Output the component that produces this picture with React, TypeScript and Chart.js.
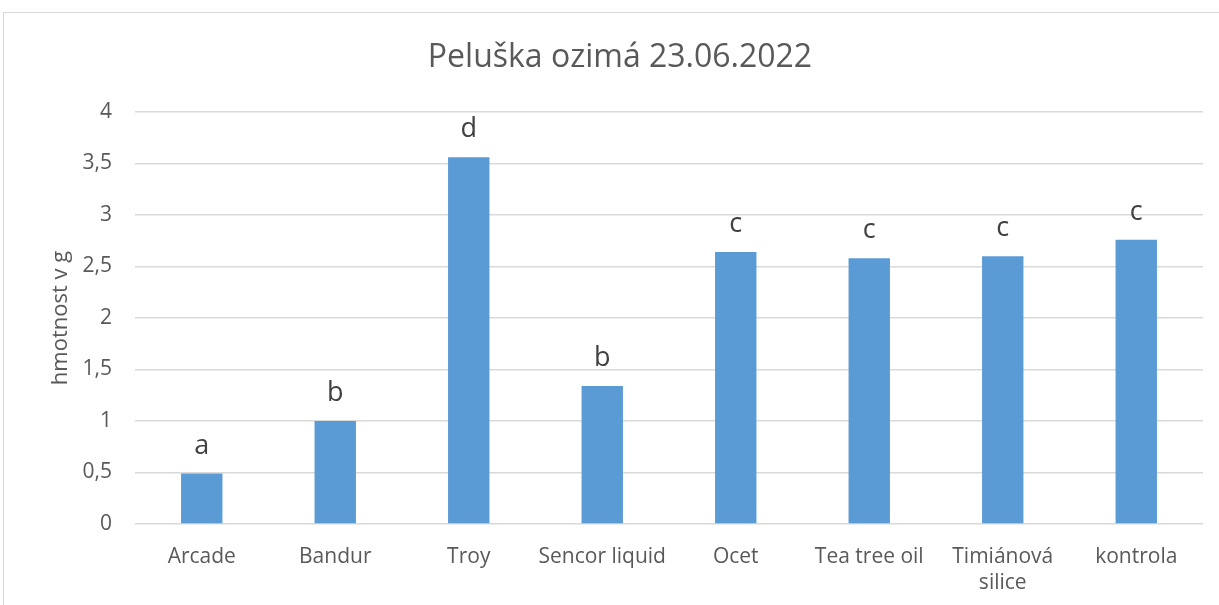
import React, { useEffect, useRef } from "react";
import { Chart, registerables } from "chart.js";

Chart.register(...registerables);

const categories: (string | string[])[] = [
  "Arcade",
  "Bandur",
  "Troy",
  "Sencor liquid",
  "Ocet",
  "Tea tree oil",
  ["Timiánová", "silice"],
  "kontrola",
];
const values: number[] = [0.49, 1.0, 3.56, 1.34, 2.64, 2.58, 2.6, 2.76];
const letters: string[] = ["a", "b", "d", "b", "c", "c", "c", "c"];
const chartTitle = "Peluška ozimá 23.06.2022";
const yAxisTitle = "hmotnost v g";

const FONT = "'Open Sans', 'DejaVu Sans', sans-serif";

const letterPlugin = {
  id: "letterLabels",
  afterDatasetsDraw(chart: any) {
    const meta = chart.getDatasetMeta(0);
    const ctx = chart.ctx;
    ctx.save();
    ctx.font = `27px ${FONT}`;
    ctx.fillStyle = "#404040";
    ctx.textAlign = "center";
    ctx.textBaseline = "alphabetic";
    meta.data.forEach((el: any, i: number) => {
      ctx.fillText(letters[i], el.x, el.y - 20);
    });
    ctx.restore();
  },
};

export default function App() {
  const ref = useRef<HTMLCanvasElement>(null);
  useEffect(() => {
    if (!ref.current) return;
    const chart = new Chart(ref.current, {
      type: "bar",
      data: {
        labels: categories,
        datasets: [
          {
            data: values,
            backgroundColor: "#5B9BD5",
            borderWidth: 0,
            barPercentage: 0.31,
            categoryPercentage: 1,
          },
        ],
      },
      options: {
        responsive: false,
        animation: false,
        layout: { padding: { left: 37, right: 16, top: 0, bottom: 0 } },
        plugins: {
          legend: { display: false },
          tooltip: { enabled: false },
          title: {
            display: true,
            text: chartTitle,
            color: "#595959",
            font: { family: FONT, size: 32, weight: "normal", lineHeight: 1.2 },
            padding: { top: 39, bottom: 34.6 },
          },
        },
        scales: {
          x: {
            grid: { display: false, drawTicks: false },
            border: { display: false },
            ticks: {
              color: "#595959",
              font: { family: FONT, size: 21, lineHeight: 1.24 },
              padding: 20,
              maxRotation: 0,
              autoSkip: false,
            },
            afterFit(scale: any) {
              scale.height = 81;
            },
          },
          y: {
            min: 0,
            max: 4,
            grid: { color: "#D9D9D9", lineWidth: 1.5, drawTicks: false },
            border: { display: false },
            ticks: {
              stepSize: 0.5,
              color: "#595959",
              font: { family: FONT, size: 21 },
              padding: 23,
              callback: (v: any) => String(v).replace(".", ","),
            },
            title: {
              display: true,
              text: yAxisTitle,
              color: "#595959",
              font: { family: FONT, size: 22, lineHeight: 1.2 },
              padding: { top: 11, bottom: 0 },
            },
            afterFit(scale: any) {
              scale.width = 98;
            },
          },
        },
      },
      plugins: [letterPlugin],
    });
    return () => chart.destroy();
  }, []);

  return (
    <div
      style={{
        position: "fixed",
        left: 0,
        top: 0,
        width: 1219,
        height: 605,
        overflow: "hidden",
        background: "#fff",
      }}
    >
      <div
        style={{
          position: "absolute",
          left: 3,
          top: 12,
          width: 1300,
          height: 700,
          border: "1px solid #D9D9D9",
        }}
      />
      <canvas
        ref={ref}
        width={1219}
        height={605}
        style={{ position: "absolute", left: 0, top: 0 }}
      />
    </div>
  );
}
